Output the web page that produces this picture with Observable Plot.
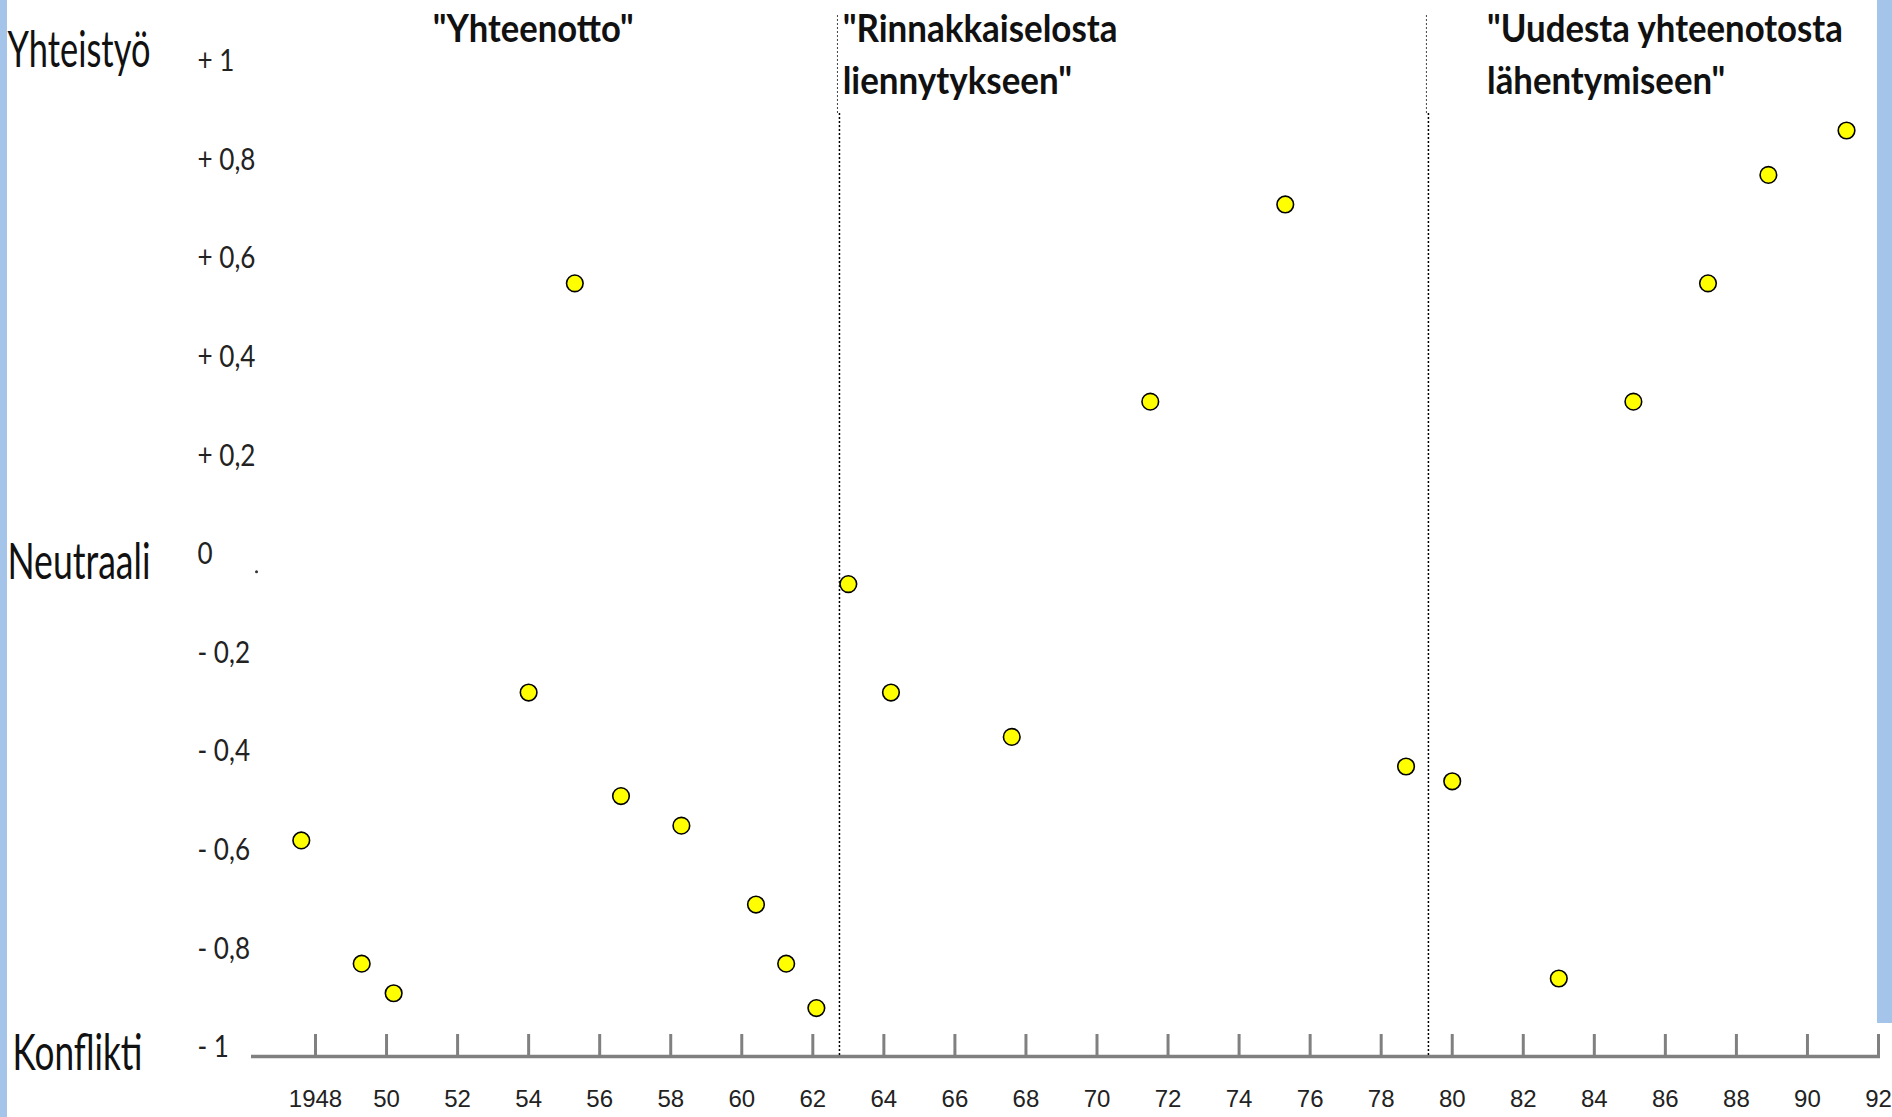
<!DOCTYPE html>
<html><head><meta charset="utf-8">
<script src="https://cdn.jsdelivr.net/npm/d3@7"></script>
<script src="https://cdn.jsdelivr.net/npm/@observablehq/plot@0.6"></script>
<style>
html,body{margin:0;padding:0;background:#fff;overflow:hidden}
#chart{position:relative;width:1892px;height:1117px}
#chart svg{position:absolute;left:0;top:0}
.band{position:absolute;background:#a5c4ea}
</style></head><body>
<div id="chart">
<div class="band" style="left:0;top:0;width:7px;height:1117px"></div>
<div class="band" style="right:0;top:0;width:15px;height:1023px"></div>
</div>
<script>
// Data
const years  = [1947.6, 1949.3, 1950.2, 1954.0, 1955.3, 1956.6, 1958.3, 1960.4, 1961.25, 1962.1, 1963.0, 1964.2, 1967.6, 1971.5, 1975.3, 1978.7, 1980.0, 1983.0, 1985.1, 1987.2, 1988.9, 1991.1];
const values = [-0.58, -0.83, -0.89, -0.28, 0.55, -0.49, -0.55, -0.71, -0.83, -0.92, -0.06, -0.28, -0.37, 0.31, 0.71, -0.43, -0.46, -0.86, 0.31, 0.55, 0.77, 0.86];

const xTickYears  = [1948, 1950, 1952, 1954, 1956, 1958, 1960, 1962, 1964, 1966, 1968, 1970, 1972, 1974, 1976, 1978, 1980, 1982, 1984, 1986, 1988, 1990, 1992];
const xTickLabels = ["1948", "50", "52", "54", "56", "58", "60", "62", "64", "66", "68", "70", "72", "74", "76", "78", "80", "82", "84", "86", "88", "90", "92"];

const yTickValues = [1, 0.8, 0.6, 0.4, 0.2, 0, -0.2, -0.4, -0.6, -0.8, -1];
const yTickLabels = ["+ 1", "+ 0,8", "+ 0,6", "+ 0,4", "+ 0,2", "0", "- 0,2", "- 0,4", "- 0,6", "- 0,8", "- 1"];

const scaleNames  = ["Yhteistyö", "Neutraali", "Konflikti"];
const scaleValues = [1, 0, -1];

const periodBoundaries = [1962.75, 1979.33];
const periodLabels = ["\"Yhteenotto\"", "\"Rinnakkaiselosta\nliennytykseen\"", "\"Uudesta yhteenotosta\nlähentymiseen\""];
const periodLabelX = [1951.3, 1962.84, 1980.98];

const strayMark = [{year: 1946.34, value: -0.035}];

const points = years.map((y, i) => ({year: y, value: values[i]}));
const periods = periodLabels.map((t, i) => ({text: t, x: periodLabelX[i]}));

const font = "Lato, 'Open Sans', sans-serif";
const W = 1892, H = 1117, mL = 315, mR = 14, mT = 61, mB = 61;

const chart = Plot.plot({
  width: W, height: H,
  marginLeft: mL, marginRight: mR, marginTop: mT, marginBottom: mB,
  style: {background: "transparent", overflow: "visible"},
  x: {domain: [1948, 1992], axis: null},
  y: {domain: [-1, 1], range: [1047, 61], axis: null},
  marks: [
    Plot.ruleY([-1], {dy: 9, stroke: "#808080", strokeWidth: 3.5, insetLeft: -64, insetRight: -2}),
    Plot.tickX(xTickYears, {x: d => d, stroke: "#808080", strokeWidth: 3, insetTop: (H - mB - mT) - 22}),
    Plot.axisX({ticks: xTickYears, tickFormat: (d, i) => xTickLabels[i], tickSize: 0, tickPadding: 33,
      fontSize: 24, fontFamily: "'Liberation Sans', Arial, sans-serif", fill: "#222"}),
    Plot.text(yTickValues, {y: d => d, text: (d, i) => yTickLabels[i], frameAnchor: "left", dx: -118,
      textAnchor: "start", fontSize: 30, fontFamily: font, fill: "#222"}),
    Plot.text([scaleValues[0]], {y: d => d, text: [scaleNames[0]], frameAnchor: "left", dx: -308, dy: -11,
      textAnchor: "start", fontSize: 50, fontFamily: font, fill: "#111"}),
    Plot.text([scaleValues[1]], {y: d => d, text: [scaleNames[1]], frameAnchor: "left", dx: -308, dy: 8,
      textAnchor: "start", fontSize: 50, fontFamily: font, fill: "#111"}),
    Plot.text([scaleValues[2]], {y: d => d, text: [scaleNames[2]], frameAnchor: "left", dx: -303, dy: 6,
      textAnchor: "start", fontSize: 50, fontFamily: font, fill: "#111"}),
    Plot.ruleX(periodBoundaries, {x: d => d, stroke: "#000", strokeWidth: 1.5, strokeDasharray: "2,2", insetTop: 52}),
    Plot.ruleX(periodBoundaries, {x: d => d, dx: -2, stroke: "#444", strokeWidth: 1, strokeDasharray: "2,2", insetTop: -46, insetBottom: (H - mB - mT) - 52}),
    Plot.text(periods, {x: "x", text: "text", frameAnchor: "top", dy: -56, lineAnchor: "top", textAnchor: "start",
      lineHeight: 1.333, fontSize: 39, fontWeight: "bold", fontFamily: font, fill: "#111"}),
    Plot.dot(strayMark, {x: "year", y: "value", r: 1.5, fill: "#333"}),
    Plot.dot(points, {x: "year", y: "value", r: 8.3, fill: "#ffff00", stroke: "#000", strokeWidth: 1.6})
  ]
});
document.getElementById("chart").prepend(chart);

// condense text horizontally (the reference uses a condensed face)
function condense(el, s) {
  const t = el.getAttribute("transform");
  if (t) el.setAttribute("transform", t + ` scale(${s},1)`);
  else {
    const x = +el.getAttribute("x") || 0, y = +el.getAttribute("y") || 0;
    el.setAttribute("transform", `translate(${x},${y}) scale(${s},1) translate(${-x},${-y})`);
  }
}
const targetWidths = new Map([
  [scaleNames[0], 143], [scaleNames[1], 143], [scaleNames[2], 130],
  [periodLabels[0].split("\n")[0], 201], [periodLabels[1].split("\n")[0], 275], [periodLabels[2].split("\n")[0], 356]
]);
const allText = Array.from(chart.querySelectorAll("text"));
const firstLine = el => (el.querySelector("tspan") ? el.querySelector("tspan").textContent : el.textContent);
let ySc = null;
const yRef = allText.find(el => el.textContent === yTickLabels[1]);
if (yRef) ySc = 58 / yRef.getBBox().width;
allText.forEach(el => {
  const key = firstLine(el);
  if (targetWidths.has(key)) {
    const w = el.getBBox().width;
    if (w > 0) condense(el, targetWidths.get(key) / w);
  } else if (ySc && yTickLabels.includes(el.textContent)) {
    condense(el, ySc);
  }
});
</script>
</body></html>
